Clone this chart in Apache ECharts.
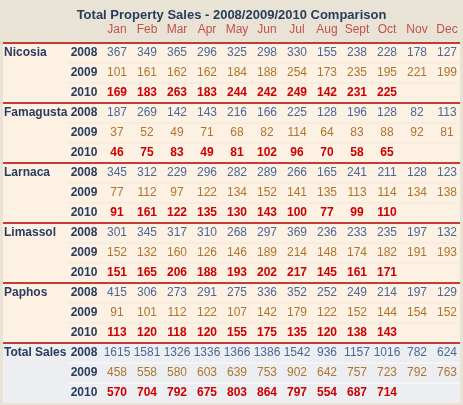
<!DOCTYPE html>
<html><head><meta charset="utf-8">
<script src="https://cdn.jsdelivr.net/npm/echarts@6/dist/echarts.min.js"></script>
<style>html,body{margin:0;padding:0;background:#e9e3d5}#c{width:463px;height:405px}</style>
</head><body><div id="c"></div>
<script>
// months (header) and regions
var months = ['Jan','Feb','Mar','Apr','May','Jun','Jul','Aug','Sept','Oct','Nov','Dec']
var years = ['2008','2009','2010']
var regions = ['Nicosia','Famagusta','Larnaca','Limassol','Paphos','Total Sales']

var nicosia = [
  [367,349,365,296,325,298,330,155,238,228,178,127],
  [101,161,162,162,184,188,254,173,235,195,221,199],
  [169,183,263,183,244,242,249,142,231,225]
]
var famagusta = [
  [187,269,142,143,216,166,225,128,196,128,82,113],
  [37,52,49,71,68,82,114,64,83,88,92,81],
  [46,75,83,49,81,102,96,70,58,65]
]
var larnaca = [
  [345,312,229,296,282,289,266,165,241,211,128,123],
  [77,112,97,122,134,152,141,135,113,114,134,138],
  [91,161,122,135,130,143,100,77,99,110]
]
var limassol = [
  [301,345,317,310,268,297,369,236,233,235,197,132],
  [152,132,160,126,146,189,214,148,174,182,191,193],
  [151,165,206,188,193,202,217,145,161,171]
]
var paphos = [
  [415,306,273,291,275,336,352,252,249,214,197,129],
  [91,101,112,122,107,142,179,122,152,144,154,152],
  [113,120,118,120,155,175,135,120,138,143]
]
var totals = [
  [1615,1581,1326,1336,1366,1386,1542,936,1157,1016,782,624],
  [458,558,580,603,639,753,902,642,757,723,792,763],
  [570,704,792,675,803,864,797,554,687,714]
]
var tables = [nicosia, famagusta, larnaca, limassol, paphos, totals]

var yearColor = ['#4a6796','#b0742c','#cc0000']

// build cells: [col, row, text, kind]
var rowIdx = []
var cells = []
var rows = []
tables.forEach(function (t, g) {
  t.forEach(function (vals, y) {
    var r = g * 3 + y
    rowIdx.push(String(r))
    rows.push([0, r, g, y])
    if (y === 0) cells.push([0, r, regions[g], 'region'])
    cells.push([0, r, years[y], 'year'])
    vals.forEach(function (v, m) { cells.push([m, r, String(v), 'y' + y]) })
  })
})

var chart = echarts.init(document.getElementById('c'))
chart.setOption({
  backgroundColor: '#e9e3d5',
  title: {
    text: 'Total Property Sales - 2008/2009/2010 Comparison', left: 'center', top: 4,
    textStyle: { fontFamily: 'Arial', fontSize: 13, fontWeight: 'bold', color: '#283c5e' }
  },
  grid: { left: 102, right: 1, top: 43, bottom: 2 },
  xAxis: {
    type: 'category', position: 'top', data: months,
    axisLine: { show: false }, axisTick: { show: false },
    axisLabel: { interval: 0, margin: 7, fontFamily: 'Arial', fontSize: 12, color: '#c45050' }
  },
  yAxis: { type: 'category', inverse: true, data: rowIdx, show: false },
  series: [{
    type: 'custom', silent: true, data: rows,
    renderItem: function (params, api) {
      var p = api.coord([0, api.value(1)])
      var h = api.size([1, 1])[1]
      var g = api.value(2), y = api.value(3)
      var top = p[1] - h / 2
      var children = [{
        type: 'rect', shape: { x: 3, y: top, width: 457, height: h },
        style: { fill: g === 5 ? '#eceef1' : '#fdf1e3' }
      }]
      if (y === 0) {
        children.push({ type: 'line', shape: { x1: 3, y1: top, x2: 460, y2: top },
          style: { stroke: '#b00000', lineWidth: 1.5 } })
      } else {
        children.push({ type: 'line', shape: { x1: 68, y1: top, x2: 460, y2: top },
          style: { stroke: g === 5 ? '#fbfbfc' : '#f3e6d4', lineWidth: 1 } })
      }
      return { type: 'group', children: children }
    }
  }, {
    type: 'custom', silent: true, data: cells,
    renderItem: function (params, api) {
      var d = cells[params.dataIndex]
      var p = api.coord([d[0], d[1]])
      var kind = d[3]
      var st = { fontFamily: 'Arial', fontSize: 12, textVerticalAlign: 'middle', textAlign: 'center' }
      if (kind === 'region') {
        return { type: 'text', x: 4, y: p[1], style: Object.assign(st, { text: d[2], textAlign: 'left',
          fontWeight: 'bold', fill: '#283c5e' }) }
      }
      if (kind === 'year') {
        return { type: 'text', x: 84, y: p[1], style: Object.assign(st, { text: d[2], fontWeight: 'bold', fill: '#283c5e' }) }
      }
      var yi = +kind.charAt(1)
      return { type: 'text', x: p[0], y: p[1], style: Object.assign(st, { text: d[2],
        fontWeight: yi === 2 ? 'bold' : 'normal', fill: yearColor[yi] }) }
    }
  }]
})
</script></body></html>
